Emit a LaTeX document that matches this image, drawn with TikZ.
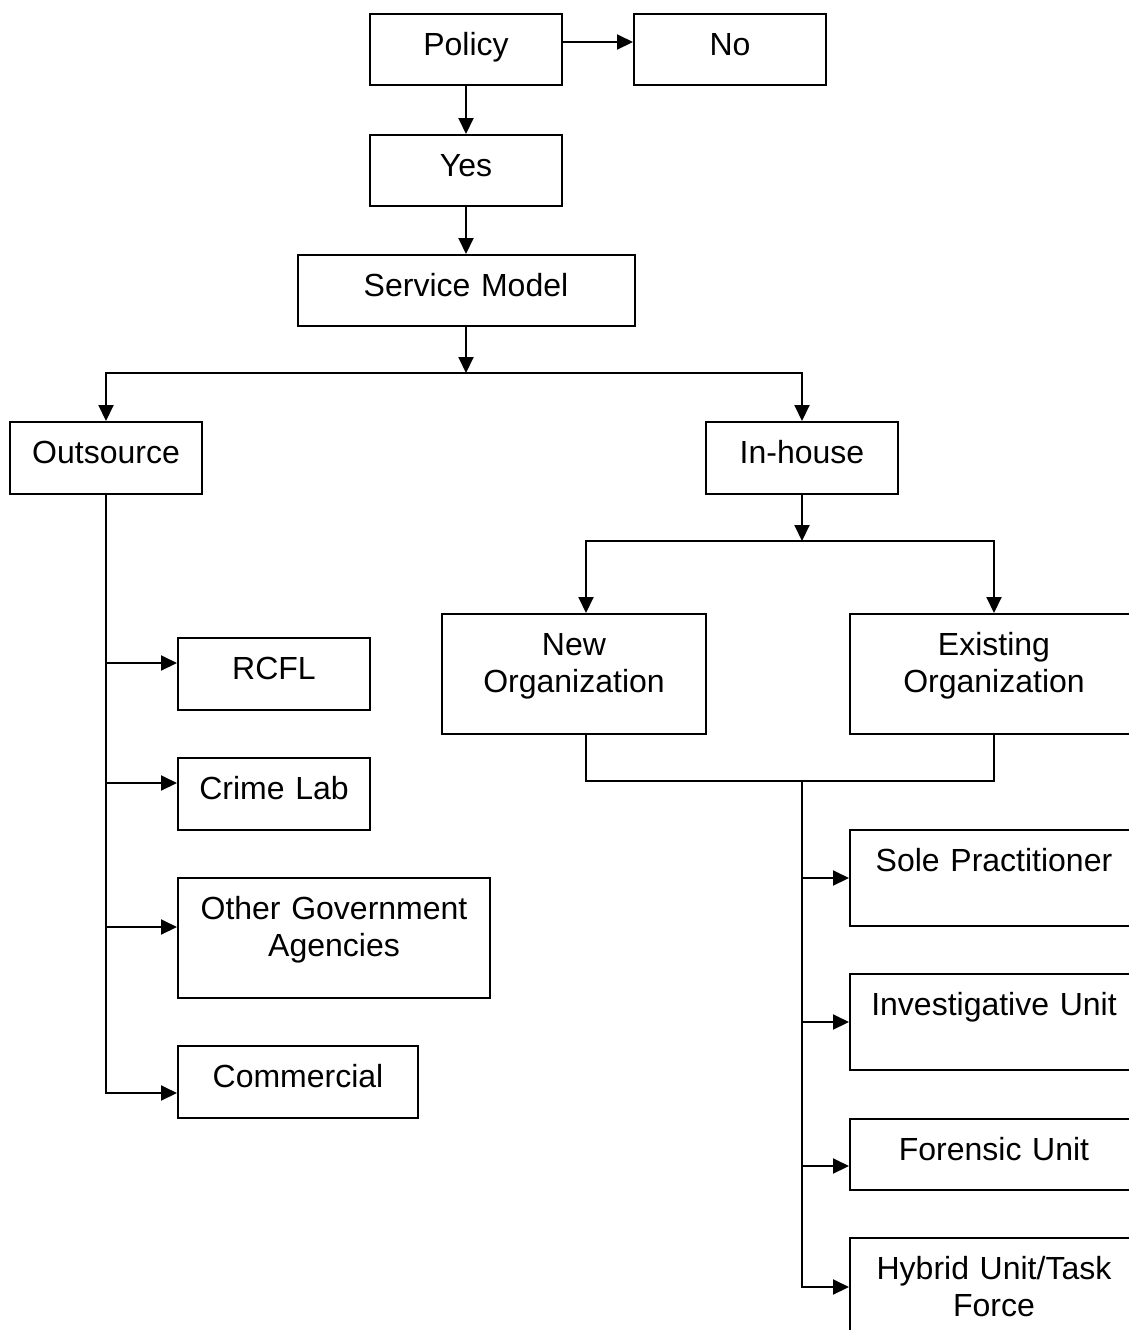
\documentclass[tikz,border=0pt]{standalone}
\usepackage{fontspec}
\setmainfont{Liberation Sans}
\usetikzlibrary{arrows.meta}

\begin{document}
\begin{tikzpicture}[x=0.5pt,y=-0.5pt,
    box/.style={draw,line width=1pt,align=center,inner xsep=0pt,inner ysep=0pt,
      anchor=north,text height=20.5pt,font=\fontsize{16}{18.5}\selectfont},
    arr/.style={line width=1pt,-{Triangle[length=8pt,width=7.5pt]}},
    conn/.style={line width=1pt}]
  \useasboundingbox (0,0) rectangle (1129,1330);
  \clip (0,0) rectangle (1129,1330);

  % top of the chart
  \node[box,text width=96pt,text depth=15pt] (policy) at (466,13) {Policy};
  \node[box,text width=96pt,text depth=15pt] (no) at (730,13) {No};
  \node[box,text width=96pt,text depth=15pt] (yes) at (466,134) {Yes};
  \node[box,text width=168.5pt,text depth=15pt] (service) at (466,254) {Service Model};

  \node[box,text width=96pt,text depth=15.5pt] (outsource) at (106,421) {Outsource};
  \node[box,text width=96pt,text depth=15.5pt] (inhouse) at (802,421) {In-house};

  % outsource branch
  \node[box,text width=96pt,text depth=15.5pt] (rcfl) at (274,637) {RCFL};
  \node[box,text width=96pt,text depth=15.5pt] (crimelab) at (274,757) {Crime Lab};
  \node[box,text width=156pt,text depth=39.5pt] (othergov) at (334,877) {Other Government\\Agencies};
  \node[box,text width=120pt,text depth=15.5pt] (commercial) at (298,1045) {Commercial};

  % in-house branch
  \node[box,text width=132pt,text depth=39.5pt] (neworg) at (574,613) {New\\Organization};
  \node[box,text width=144pt,text depth=39.5pt] (existorg) at (994,613) {Existing\\Organization};
  \node[box,text width=144pt,text depth=27.5pt] (sole) at (994,829) {Sole Practitioner};
  \node[box,text width=144pt,text depth=27.5pt] (invest) at (994,973) {Investigative Unit};
  \node[box,text width=144pt,text depth=15pt] (forensic) at (994,1118) {Forensic Unit};
  \node[box,text width=144pt,text depth=39.5pt] (hybrid) at (994,1237) {Hybrid Unit/Task\\Force};

  \coordinate (split) at (466,373);
  \coordinate (split2) at (802,541);
  \coordinate (merge) at (802,781);

  \draw[arr] ([yshift=3.75pt]policy.east) -- ([yshift=3.75pt]no.west);
  \draw[arr] (policy) -- (yes);
  \draw[arr] (yes) -- (service);
  \draw[arr] (service.south) -- (split);
  \draw[arr] (split) -| (outsource.north);
  \draw[arr] (split) -| (inhouse.north);

  \draw[arr] (outsource.south) |- ([yshift=5.5pt]rcfl.west);
  \draw[arr] (outsource.south) |- ([yshift=5.5pt]crimelab.west);
  \draw[arr] (outsource.south) |- ([yshift=5.5pt]othergov.west);
  \draw[arr] (outsource.south) |- ([yshift=-5.5pt]commercial.west);

  \draw[arr] (inhouse.south) -- (split2);
  \draw[arr] (split2) -| ([xshift=6pt]neworg.north);
  \draw[arr] (split2) -| (existorg.north);
  \draw[conn] ([xshift=6pt]neworg.south) |- (merge) -| (existorg.south);

  \draw[arr] (merge) |- (sole.west);
  \draw[arr] (merge) |- (invest.west);
  \draw[arr] (merge) |- ([yshift=-5.75pt]forensic.west);
  \draw[arr] (merge) |- ([yshift=5.5pt]hybrid.west);
\end{tikzpicture}
\end{document}
